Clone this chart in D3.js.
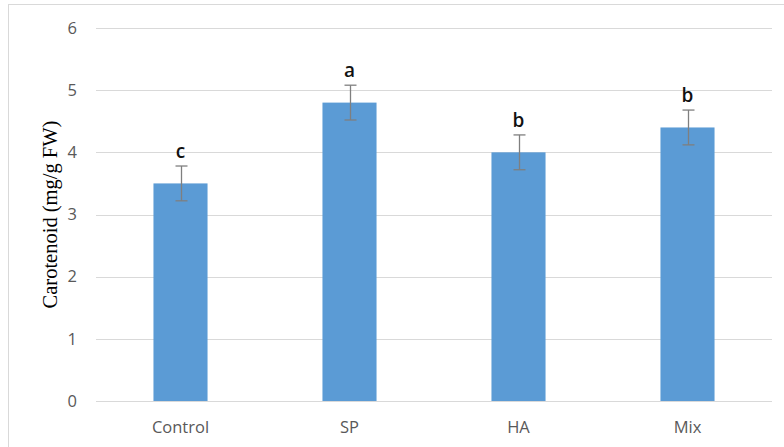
<!DOCTYPE html>
<html>
<head>
<meta charset="utf-8">
<script src="https://cdn.jsdelivr.net/npm/d3@7"></script>
<style>
  html, body { margin: 0; padding: 0; background: #fff; }
  svg { display: block; }
</style>
</head>
<body>
<svg id="chart" width="784" height="447"></svg>
<script>
// Carotenoid content per treatment, with standard error and significance letters
const categories = ["Control", "SP", "HA", "Mix"];
const values = [3.5, 4.8, 4.0, 4.4];
const errors = [0.28, 0.28, 0.28, 0.28];
const letters = ["c", "a", "b", "b"];
const yTicks = [0, 1, 2, 3, 4, 5, 6];

const svg = d3.select("#chart");
const W = 784, H = 447;
const margin = { left: 96, right: 12, top: 28, bottom: 46 };

// outer frame
svg.append("rect")
  .attr("x", 8.5).attr("y", 4.5)
  .attr("width", W - 8).attr("height", H)
  .attr("fill", "#fff").attr("stroke", "#d9d9d9").attr("stroke-width", 1);

const x = d3.scaleBand()
  .domain(categories)
  .range([margin.left, W - margin.right])
  .paddingInner(0.68).paddingOuter(0.34);

const y = d3.scaleLinear()
  .domain([0, 6])
  .range([H - margin.bottom, margin.top]);

// horizontal gridlines
svg.append("g")
  .selectAll("line")
  .data(yTicks)
  .join("line")
  .attr("x1", margin.left).attr("x2", W - margin.right)
  .attr("y1", d => Math.round(y(d)) + 0.5).attr("y2", d => Math.round(y(d)) + 0.5)
  .attr("stroke", "#d9d9d9").attr("stroke-width", 1);

// y axis tick labels
const yAxis = d3.axisLeft(y).tickValues(yTicks).tickFormat(d3.format("d")).tickSize(0).tickPadding(0);
const gy = svg.append("g")
  .attr("transform", `translate(${margin.left - 19},0)`)
  .call(yAxis);
gy.select(".domain").remove();
gy.selectAll("text")
  .attr("font-family", "'Open Sans', 'Liberation Sans', sans-serif")
  .attr("font-size", 16.5).attr("fill", "#595959");

// x axis category labels
const xAxis = d3.axisBottom(x).tickSize(0).tickPadding(0);
const gx = svg.append("g")
  .attr("transform", `translate(0,${H - margin.bottom + 20})`)
  .call(xAxis);
gx.select(".domain").remove();
gx.selectAll("text")
  .attr("font-family", "'Open Sans', 'Liberation Sans', sans-serif")
  .attr("font-size", 16.5).attr("fill", "#595959");

// bars
svg.append("g")
  .selectAll("rect")
  .data(categories)
  .join("rect")
  .attr("x", d => x(d))
  .attr("width", x.bandwidth())
  .attr("y", (d, i) => y(values[i]))
  .attr("height", (d, i) => y(0) - y(values[i]))
  .attr("fill", "#5b9bd5");

// error bars
const eb = svg.append("g").attr("stroke", "#7f7f7f").attr("stroke-width", 1.3);
categories.forEach((c, i) => {
  const cx = Math.round(x(c) + x.bandwidth() / 2) + 0.5;
  const hi = y(values[i] + errors[i]);
  const lo = y(values[i] - errors[i]);
  eb.append("line").attr("x1", cx).attr("x2", cx).attr("y1", hi).attr("y2", lo);
  eb.append("line").attr("x1", cx - 6).attr("x2", cx + 6).attr("y1", hi).attr("y2", hi);
  eb.append("line").attr("x1", cx - 6).attr("x2", cx + 6).attr("y1", lo).attr("y2", lo);
});

// significance letters above the error bars
svg.append("g")
  .selectAll("text")
  .data(categories)
  .join("text")
  .attr("x", d => x(d) + x.bandwidth() / 2)
  .attr("y", (d, i) => y(values[i] + errors[i]) - 8)
  .attr("text-anchor", "middle")
  .attr("font-family", "'Open Sans', 'Liberation Sans', sans-serif")
  .attr("font-size", 19).attr("font-weight", 600).attr("fill", "#111")
  .text((d, i) => letters[i]);

// y axis title
svg.append("text")
  .attr("transform", `translate(57,${(y(0) + y(6)) / 2}) rotate(-90)`)
  .attr("text-anchor", "middle")
  .attr("font-family", "'Liberation Serif', 'Times New Roman', serif")
  .attr("font-size", 20.5).attr("fill", "#000")
  .text("Carotenoid (mg/g FW)");
</script>
</body>
</html>
